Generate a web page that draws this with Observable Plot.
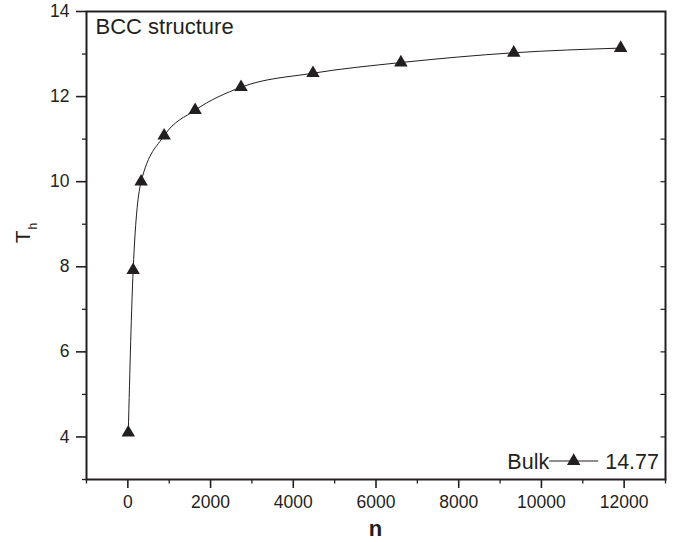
<!DOCTYPE html>
<html>
<head>
<meta charset="utf-8">
<script src="https://cdn.jsdelivr.net/npm/d3@7"></script>
<script src="https://cdn.jsdelivr.net/npm/@observablehq/plot@0.6"></script>
<style>
  html, body { margin: 0; padding: 0; background: #fff; }
  #chart { width: 676px; height: 542px; }
</style>
</head>
<body>
<div id="chart"></div>
<script>
const nValues = [10, 128, 321, 877, 1626, 2737, 4476, 6602, 9331, 11916];
const thValues = [4.1, 7.92, 10.0, 11.08, 11.68, 12.22, 12.55, 12.8, 13.03, 13.14];
const xMajorTicks = [0, 2000, 4000, 6000, 8000, 10000, 12000];
const xMinorTicks = [-1000, 1000, 3000, 5000, 7000, 9000, 11000, 13000];
const yMajorTicks = [4, 6, 8, 10, 12, 14];
const yMinorTicks = [3, 5, 7, 9, 11, 13];
const yRightTicks = [4, 5, 6, 7, 8, 9, 10, 11, 12, 13];
const bulkLabel = "Bulk";
const bulkValue = "14.77";
const structureLabel = "BCC structure";

const data = nValues.map((n, i) => ({n, th: thValues[i]}));
const ink = "#231f20";
const font = "'Liberation Sans', Arial, sans-serif";

const W = 676, H = 542;
const mL = 86, mR = 11, mT = 11, mB = 63;

const plot = Plot.plot({
  width: W,
  height: H,
  marginLeft: mL,
  marginRight: mR,
  marginTop: mT,
  marginBottom: mB,
  style: {fontFamily: font, fontSize: "17.5px", color: ink, background: "#fff"},
  x: {domain: [-1000, 13000], label: null},
  y: {domain: [3, 14], label: null},
  marks: [
    Plot.axisX(xMajorTicks, {tickSize: 9, tickPadding: 7, fontSize: 17.5, stroke: ink, strokeWidth: 1.6, fill: ink, tickFormat: d => String(d)}),
    Plot.axisX(xMinorTicks, {tickSize: 4.5, text: null, stroke: ink, strokeWidth: 1.3}),
    Plot.axisY(yMajorTicks, {tickSize: 10, tickPadding: 7, fontSize: 17.5, stroke: ink, strokeWidth: 1.6, fill: ink}),
    Plot.axisY(yMinorTicks, {tickSize: 4, text: null, stroke: ink, strokeWidth: 1.3}),
    Plot.ruleY(yRightTicks, {y: d => d, x1: 12890, x2: 13000, stroke: ink, strokeWidth: 1.2}),
    Plot.frame({stroke: ink, strokeWidth: 2}),
    Plot.line(data, {x: "n", y: "th", curve: "monotone-x", stroke: ink, strokeWidth: 1}),
    Plot.dot(data, {x: "n", y: "th", symbol: "triangle", r: 5, fill: ink, stroke: "none"}),
    Plot.text([structureLabel], {frameAnchor: "top-left", dx: 9, dy: 7, fontSize: 22, fill: ink, textAnchor: "start", lineAnchor: "top"})
  ]
});

document.getElementById("chart").appendChild(plot);

const svg = d3.select(plot.tagName.toLowerCase() === "svg" ? plot : plot.querySelector("svg"));
svg.selectAll("g[aria-label*='tick label']").attr("font-size", 17.5).style("font-size", "17.5px");
svg.selectAll("g[aria-label*='tick label'] text").attr("font-size", 17.5).style("font-size", "17.5px");
svg.selectAll("text").style("font-family", font);

// x axis title
svg.append("text")
  .attr("x", mL + (W - mL - mR) / 2)
  .attr("y", H - 6)
  .attr("text-anchor", "middle")
  .attr("font-family", font)
  .attr("font-weight", "bold")
  .attr("font-size", 22)
  .attr("fill", ink)
  .text("n");

// y axis title with subscript
const yt = svg.append("text")
  .attr("transform", `translate(30, ${mT + (H - mT - mB) / 2 - 12}) rotate(-90)`)
  .attr("text-anchor", "middle")
  .attr("font-family", font)
  .attr("font-size", 21)
  .attr("fill", ink);
yt.append("tspan").text("T");
yt.append("tspan").attr("font-size", 12).attr("dy", 7).attr("dx", 1).text("h");

// legend at bottom right inside the frame
const ly = H - mB - 18;
const rightEdge = W - mR - 6;
const lg = svg.append("g").attr("font-family", font).attr("font-size", 21.5).attr("fill", ink);
const valText = lg.append("text").attr("x", rightEdge).attr("y", ly).attr("dy", "0.35em").attr("text-anchor", "end").text(bulkValue);
const vw = valText.node().getComputedTextLength();
const lineEnd = rightEdge - vw - 7;
const lineStart = lineEnd - 49;
lg.append("line").attr("x1", lineStart).attr("x2", lineEnd).attr("y1", ly).attr("y2", ly).attr("stroke", ink).attr("stroke-width", 1);
lg.append("path").attr("d", d3.symbol(d3.symbolTriangle, Math.PI * 25)()).attr("transform", `translate(${(lineStart + lineEnd) / 2}, ${ly})`).attr("fill", ink);
lg.append("text").attr("x", lineStart).attr("y", ly).attr("dy", "0.35em").attr("text-anchor", "end").text(bulkLabel);
</script>
</body>
</html>
